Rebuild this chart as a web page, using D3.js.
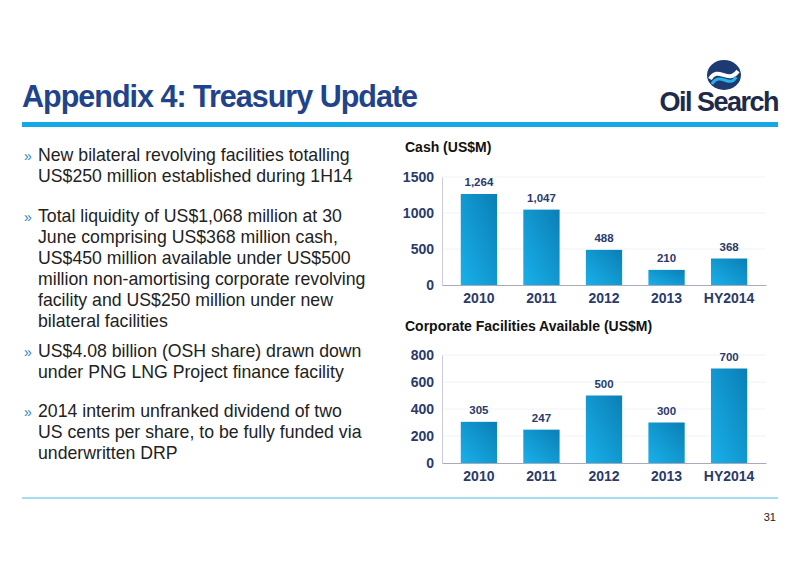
<!DOCTYPE html>
<html><head><meta charset="utf-8">
<script src="https://cdn.jsdelivr.net/npm/d3@7"></script>
<style>body{margin:0;background:#fff}svg{font-family:Arial,"Liberation Sans",sans-serif}</style>
</head><body><div id="chart"></div>
<script>
// data
var years = ["2010", "2011", "2012", "2013", "HY2014"];
var cash = [1264, 1047, 488, 210, 368];
var facilities = [305, 247, 500, 300, 700];
var cashTicks = [0, 500, 1000, 1500];
var facTicks = [0, 200, 400, 600, 800];

var svg = d3.select("#chart").append("svg").attr("width", 800).attr("height", 566);

var grad = svg.append("defs").append("linearGradient").attr("id", "bg")
  .attr("x1", 0).attr("y1", 1).attr("x2", 1).attr("y2", 0);
grad.append("stop").attr("offset", "0%").attr("stop-color", "#19b0ea");
grad.append("stop").attr("offset", "100%").attr("stop-color", "#0a7fb5");

// header
svg.append("text").attr("x", 22).attr("y", 107).attr("fill", "#21438c")
  .attr("font-size", 30.5).attr("font-weight", "bold").attr("letter-spacing", -1)
  .text("Appendix 4: Treasury Update");
svg.append("rect").attr("x", 22).attr("y", 122).attr("width", 756).attr("height", 5).attr("fill", "#14a9e6");
svg.append("line").attr("x1", 22).attr("x2", 778).attr("y1", 498).attr("y2", 498).attr("stroke", "#4ab8e0").attr("stroke-width", 1);
svg.append("text").attr("x", 776).attr("y", 521).attr("text-anchor", "end").attr("font-size", 11).attr("fill", "#222").text("31");

// logo
var logo = svg.append("g").attr("transform", "translate(724,75)");
logo.append("ellipse").attr("rx", 17).attr("ry", 15).attr("fill", "#1d3a72");
logo.append("path").attr("d", "M-14,4 C-6,-10 4,10 14,-4").attr("stroke", "#fff").attr("stroke-width", 4).attr("fill", "none");
logo.append("path").attr("d", "M-12,9 C-4,-4 6,14 12,2").attr("stroke", "#2cb0e8").attr("stroke-width", 3).attr("fill", "none");
svg.append("text").attr("x", 778).attr("y", 111).attr("text-anchor", "end").attr("fill", "#1d2a4a")
  .attr("font-size", 27).attr("font-weight", "bold").attr("letter-spacing", -1.5).text("Oil Search");

// bullets
var bullets = [
  ["New bilateral revolving facilities totalling", "US$250 million established during 1H14"],
  ["Total liquidity of US$1,068 million at 30", "June comprising US$368 million cash,", "US$450 million available under US$500",
   "million non-amortising corporate revolving", "facility and US$250 million under new", "bilateral facilities"],
  ["US$4.08 billion (OSH share) drawn down", "under PNG LNG Project finance facility"],
  ["2014 interim unfranked dividend of two", "US cents per share, to be fully funded via", "underwritten DRP"]
];
var startY = [161, 222, 357, 417];
bullets.forEach(function(lines, i) {
  svg.append("text").attr("x", 24).attr("y", startY[i]).attr("fill", "#2f7fc8").attr("font-size", 14).text("»");
  lines.forEach(function(t, j) {
    svg.append("text").attr("x", 38).attr("y", startY[i] + j * 21).attr("font-size", 17.7).attr("fill", "#222").text(t);
  });
});

function barChart(title, titleY, values, ticks, yTop, yBottom) {
  var x = d3.scaleBand().domain(years).range([442, 766]).paddingInner(0.42).paddingOuter(0.3);
  var y = d3.scaleLinear().domain([0, ticks[ticks.length - 1]]).range([yBottom, yTop]);
  var g = svg.append("g");
  svg.append("text").attr("x", 405).attr("y", titleY).attr("font-size", 14).attr("font-weight", "bold").attr("fill", "#111").text(title);
  g.selectAll(".grid").data(ticks.slice(1)).enter().append("line")
    .attr("x1", 442).attr("x2", 766).attr("y1", function(d) { return y(d); }).attr("y2", function(d) { return y(d); })
    .attr("stroke", "#eef2f6");
  var ya = g.append("g").attr("transform", "translate(442,0)")
    .call(d3.axisLeft(y).tickValues(ticks).tickSize(0).tickPadding(8).tickFormat(d3.format("d")));
  ya.select(".domain").attr("stroke", "#ccd");
  ya.selectAll("text").attr("font-size", 14).attr("font-weight", "bold").attr("fill", "#2a3a6a");
  var xa = g.append("g").attr("transform", "translate(0," + yBottom + ")")
    .call(d3.axisBottom(x).tickSize(0).tickPadding(8));
  xa.select(".domain").attr("stroke", "#aab");
  xa.selectAll("text").attr("font-size", 14).attr("font-weight", "bold").attr("fill", "#2a3a6a");
  g.selectAll(".bar").data(values).enter().append("rect")
    .attr("x", function(d, i) { return x(years[i]); }).attr("width", x.bandwidth())
    .attr("y", function(d) { return y(d); }).attr("height", function(d) { return yBottom - y(d); })
    .attr("fill", "url(#bg)");
  g.selectAll(".lbl").data(values).enter().append("text")
    .attr("x", function(d, i) { return x(years[i]) + x.bandwidth() / 2; })
    .attr("y", function(d) { return y(d) - 8; }).attr("text-anchor", "middle")
    .attr("font-size", 11.5).attr("font-weight", "bold").attr("fill", "#2a3a6a")
    .text(function(d) { return d3.format(",")(d); });
}
barChart("Cash (US$M)", 152, cash, cashTicks, 177, 285);
barChart("Corporate Facilities Available (US$M)", 331, facilities, facTicks, 355, 463);
</script></body></html>
